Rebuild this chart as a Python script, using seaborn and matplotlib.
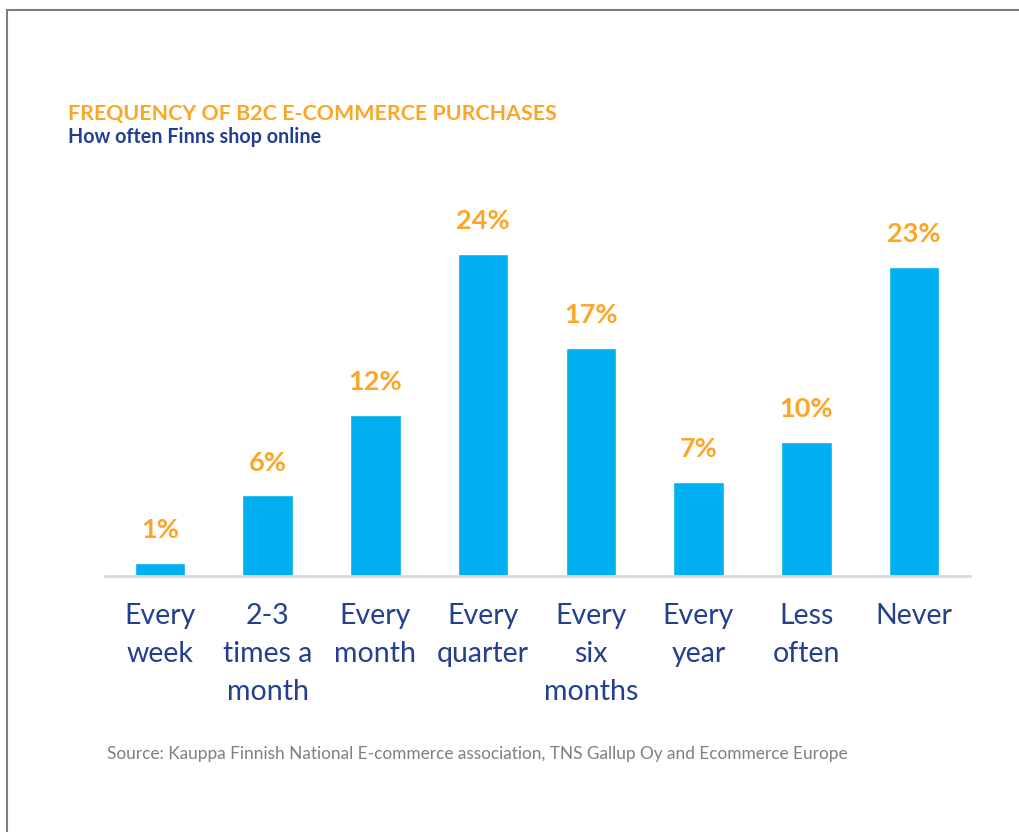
import matplotlib
matplotlib.use("Agg")
import matplotlib.pyplot as plt
import seaborn as sns
import pandas as pd
from matplotlib.patches import Rectangle

categories = ["Every\nweek", "2-3\ntimes a\nmonth", "Every\nmonth", "Every\nquarter",
              "Every\nsix\nmonths", "Every\nyear", "Less\noften", "Never"]
values = [1, 6, 12, 24, 17, 7, 10, 23]
value_labels = ["1%", "6%", "12%", "24%", "17%", "7%", "10%", "23%"]

title = "FREQUENCY OF B2C E-COMMERCE PURCHASES"
subtitle = "How often Finns shop online"
source = "Source: Kauppa Finnish National E-commerce association, TNS Gallup Oy and Ecommerce Europe"

BLUE = "#00B0F0"
ORANGE = "#FBA627"
NAVY = "#23408E"
FONT = ["Lato", "DejaVu Sans"]

sns.set_theme(style="white")
plt.rcParams["font.family"] = FONT

df = pd.DataFrame({"cat": categories, "val": values})

fig = plt.figure(figsize=(10.2, 8.32), dpi=100)
ax = fig.add_axes([105/1020, 1-576/832, (970-105)/1020, (576-200)/832])
sns.barplot(data=df, x="cat", y="val", color=BLUE, saturation=1, width=0.47, ax=ax)

ax.set_xlim(-0.51, 7.52)
ax.set_ylim(0, 28)
for s in ["top", "right", "left"]:
    ax.spines[s].set_visible(False)
ax.spines["bottom"].set_color("#D9D9D9")
ax.spines["bottom"].set_linewidth(2)
ax.set_yticks([])
ax.set_xlabel("")
ax.set_ylabel("")
ax.tick_params(axis="x", length=0, pad=19.5)
for lbl in ax.get_xticklabels():
    lbl.set_fontsize(20.5)
    lbl.set_color(NAVY)
    lbl.set_linespacing(1.57)
    lbl.set_va("top")

for i, (v, t) in enumerate(zip(values, value_labels)):
    ax.annotate(t, (i, v), xytext=(0, 15), textcoords="offset points",
                ha="center", va="bottom", fontsize=19.5, fontweight="bold", color=ORANGE)

fig.text(68/1020, 1-120/832, title, fontsize=15.4, fontweight="bold", color=ORANGE, ha="left", va="baseline")
fig.text(68/1020, 1-143/832, subtitle, fontsize=14.2, fontweight="bold", color=NAVY, ha="left", va="baseline")
fig.text(107/1020, 1-759/832, source, fontsize=12.4, color="#7F7F7F", ha="left", va="baseline")

fig.patches.append(Rectangle((7/1020, -0.1), 1.2, 1.1 - 10/832, transform=fig.transFigure,
                             fill=False, edgecolor="#7F7F7F", linewidth=1.5))

fig.savefig("out.png", dpi=100)
